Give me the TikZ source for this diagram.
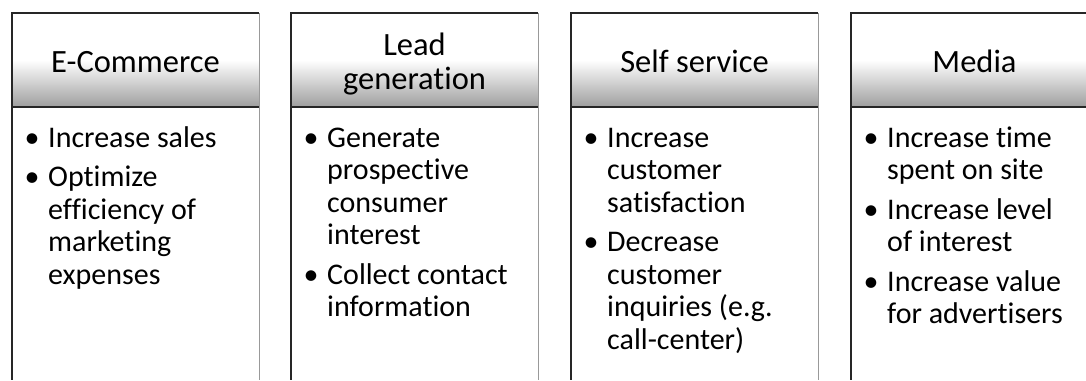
\documentclass[tikz,border=0pt]{standalone}
\usepackage{fontspec}
\setmainfont{Carlito}[Ligatures=NoCommon]
\begin{document}
\begin{tikzpicture}[x=1pt,y=-1pt,
  edge/.style={line width=2pt, black!85},
  faint/.style={line width=0.8pt, black!40},
  txt/.style={inner sep=0pt, font=\fontsize{30}{32.5}\selectfont},
  head/.style={inner sep=0pt, font=\fontsize{32.5}{34}\selectfont, anchor=base},
  dot/.style={txt, anchor=base},
  item/.style={txt, anchor=base west}]
\useasboundingbox (0,0) rectangle (1086,380);

% four panels: shaded header band, dark top/left/header rule, faint right edge
\foreach \L in {12,291,571,851}{
  \fill[white] (\L,13) rectangle (\L+247,60);
  \shade[top color=white, bottom color=black!38] (\L,60) rectangle (\L+247,107);
  \draw[faint] (\L+247,13) -- (\L+247,380);
  \draw[edge] (\L+247,13) -- (\L,13) -- (\L,380);
  \draw[edge] (\L,107) -- (\L+247,107);
}

% headers
\node[head] (h1) at (135.5,72) {E-Commerce};
\node[head] (h2) at (414.5,55) {\parbox[t]{240pt}{\centering Lead\\generation}};
\node[head] (h3) at (694.5,72) {Self service};
\node[head] (h4) at (974.5,72) {Media};

% E-Commerce
\node[dot] (b11) at (32,147) {\textbullet};
\node[item] (t11) at (48,147) {Increase sales};
\node[dot] (b12) at (32,186.5) {\textbullet};
\node[item] (t12) at (48,186.5) {\parbox[t]{205pt}{\raggedright Optimize\\efficiency of\\marketing\\expenses}};

% Lead generation
\node[dot] (b21) at (311,147) {\textbullet};
\node[item] (t21) at (327,147) {\parbox[t]{205pt}{\raggedright Generate\\prospective\\consumer\\interest}};
\node[dot] (b22) at (311,284) {\textbullet};
\node[item] (t22) at (327,284) {\parbox[t]{205pt}{\raggedright Collect contact\\information}};

% Self service
\node[dot] (b31) at (591,147) {\textbullet};
\node[item] (t31) at (607,147) {\parbox[t]{205pt}{\raggedright Increase\\customer\\satisfaction}};
\node[dot] (b32) at (591,251.5) {\textbullet};
\node[item] (t32) at (607,251.5) {\parbox[t]{205pt}{\raggedright Decrease\\customer\\inquiries (e.g.\\call-center)}};

% Media
\node[dot] (b41) at (871,147) {\textbullet};
\node[item] (t41) at (887,147) {\parbox[t]{205pt}{\raggedright Increase time\\spent on site}};
\node[dot] (b42) at (871,219) {\textbullet};
\node[item] (t42) at (887,219) {\parbox[t]{205pt}{\raggedright Increase level\\of interest}};
\node[dot] (b43) at (871,291) {\textbullet};
\node[item] (t43) at (887,291) {\parbox[t]{205pt}{\raggedright Increase value\\for advertisers}};
\end{tikzpicture}
\end{document}
